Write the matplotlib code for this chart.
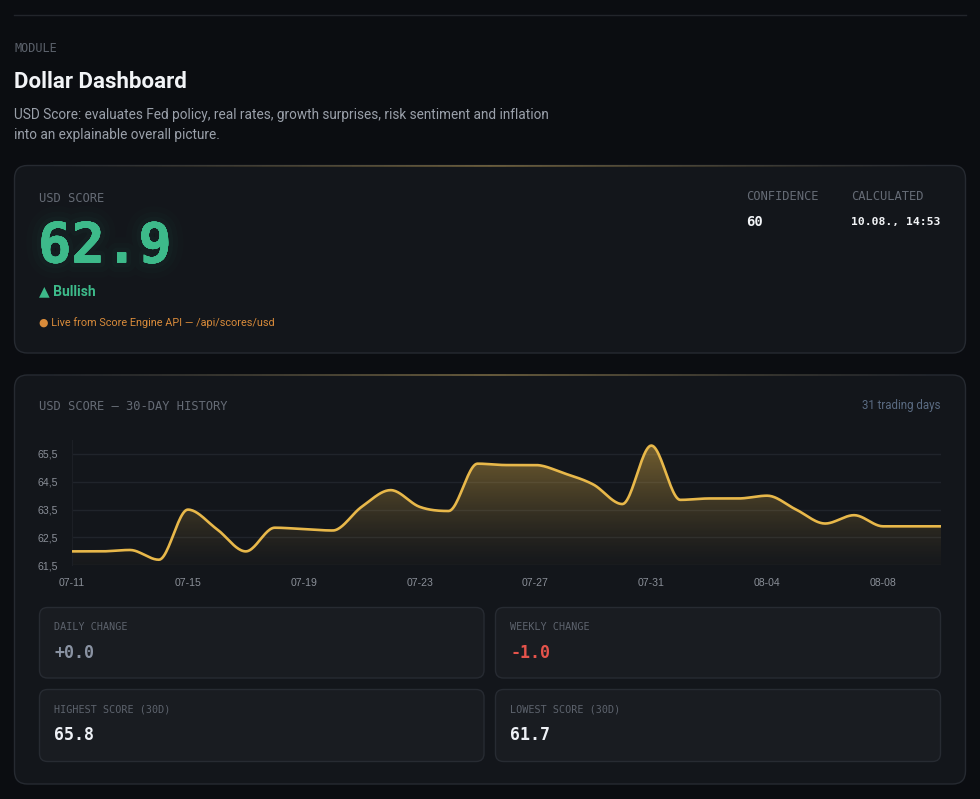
import numpy as np
import matplotlib
matplotlib.use("Agg")
import matplotlib.pyplot as plt
from matplotlib.patches import FancyBboxPatch
from matplotlib.collections import LineCollection
from matplotlib.ticker import FuncFormatter, FixedLocator
import matplotlib.patheffects as pe

# ---------------- data ----------------
dates = ["07-11", "07-12", "07-13", "07-14", "07-15", "07-16", "07-17", "07-18",
         "07-19", "07-20", "07-21", "07-22", "07-23", "07-24", "07-25", "07-26",
         "07-27", "07-28", "07-29", "07-30", "07-31", "08-01", "08-02", "08-03",
         "08-04", "08-05", "08-06", "08-07", "08-08", "08-09", "08-10"]
scores = [62.0, 62.0, 62.05, 61.7, 63.5, 62.8, 62.0, 62.85, 62.8, 62.75,
          63.6, 64.2, 63.6, 63.45, 65.15, 65.1, 65.1, 64.8, 64.4, 63.7,
          65.8, 63.85, 63.9, 63.9, 64.0, 63.5, 63.0, 63.3, 62.9, 62.9, 62.9]
yticks = [61.5, 62.5, 63.5, 64.5, 65.5]
xtick_labels = ["07-11", "07-15", "07-19", "07-23", "07-27", "07-31", "08-04", "08-08"]

current_score = "62.9"
signal = "▲ Bullish"
confidence = "60"
calculated = "10.08., 14:53"
stat_labels = ["DAILY CHANGE", "WEEKLY CHANGE", "HIGHEST SCORE (30D)", "LOWEST SCORE (30D)"]
stat_values = ["+0.0", "-1.0", "65.8", "61.7"]
stat_colors = ["#8a93a3", "#e5534b", "#eef1f6", "#eef1f6"]

# ---------------- style ----------------
BG = "#0b0d11"
CARD = "#13161b"
CARD_BORDER = "#262a31"
STAT = "#191c21"
GOLD = "#e8b84a"
GREEN = "#3dba8a"
MUTED = "#656b75"
MONO = "DejaVu Sans Mono"
SANS = ["Roboto", "DejaVu Sans"]

W, H = 980, 799
fig = plt.figure(figsize=(W / 100, H / 100), dpi=100, facecolor=BG)
bg = fig.add_axes([0, 0, 1, 1])
bg.set_xlim(0, W)
bg.set_ylim(H, 0)
bg.axis("off")
bg.set_facecolor(BG)


def rbox(x0, y0, x1, y1, r, fc, ec, lw=1.0, z=1):
    p = FancyBboxPatch((x0, y0), x1 - x0, y1 - y0,
                       boxstyle=f"round,pad=0,rounding_size={r}",
                       fc=fc, ec=ec, lw=lw, zorder=z)
    bg.add_patch(p)


def gold_top(x0, x1, y, z=3):
    xs = np.linspace(x0, x1, 200)
    segs = [[(xs[i], y), (xs[i + 1], y)] for i in range(len(xs) - 1)]
    c = (x0 + x1) / 2
    half = (x1 - x0) / 2
    cols = []
    for i in range(len(xs) - 1):
        xm = (xs[i] + xs[i + 1]) / 2
        a = max(0.0, 1 - abs(xm - c) / half) ** 1.2 * 0.45
        cols.append((0.85, 0.7, 0.35, a))
    bg.add_collection(LineCollection(segs, colors=cols, linewidths=1.2, zorder=z))


# top separator
bg.plot([14, 966], [14.5, 14.5], color="#22252b", lw=1, zorder=1)

# header
bg.text(14, 48, "MODULE", fontsize=8.6, family=MONO, color="#5b616b", va="center", ha="left")
bg.text(14, 82, "Dollar Dashboard", fontsize=16, family=SANS, fontweight="bold",
        color="#f2f4f7", va="center", ha="left")
bg.text(14, 115, "USD Score: evaluates Fed policy, real rates, growth surprises, risk sentiment and inflation",
        fontsize=9.85, family=SANS, color="#9aa0aa", va="center", ha="left")
bg.text(14, 135, "into an explainable overall picture.",
        fontsize=9.85, family=SANS, color="#9aa0aa", va="center", ha="left")

# ---------------- card 1 ----------------
rbox(14.5, 165.5, 965.5, 353, 13, CARD, CARD_BORDER, z=1)
gold_top(40, 940, 165.8)
bg.text(39, 199, "USD SCORE", fontsize=8.7, family=MONO, color=MUTED, va="center", ha="left")
glow = [pe.withStroke(linewidth=22, foreground=(0.24, 0.73, 0.54, 0.015)),
        pe.withStroke(linewidth=14, foreground=(0.24, 0.73, 0.54, 0.022)),
        pe.withStroke(linewidth=7, foreground=(0.24, 0.73, 0.54, 0.03)),
        pe.Normal()]
bg.text(38, 247, current_score, fontsize=40, family=MONO, fontweight="bold", color=GREEN,
        va="center", ha="left", path_effects=glow)
bg.text(39, 291, signal, fontsize=10, family=SANS, fontweight="bold", color=GREEN,
        va="center", ha="left")
bg.text(39, 323, "● Live from Score Engine API — /api/scores/usd", fontsize=7.8, family=SANS,
        color="#d98b3a", va="center", ha="left")

bg.text(746, 196, "CONFIDENCE", fontsize=8.7, family=MONO, color=MUTED, va="center", ha="left")
bg.text(746, 222, confidence, fontsize=10, family=MONO, fontweight="bold", color="#f2f4f7",
        va="center", ha="left")
bg.text(851, 196, "CALCULATED", fontsize=8.7, family=MONO, color=MUTED, va="center", ha="left")
bg.text(851, 222, calculated, fontsize=8.2, family=MONO, fontweight="bold", color="#f2f4f7",
        va="center", ha="left")

# ---------------- card 2 ----------------
rbox(14.5, 375, 965.5, 784, 13, CARD, CARD_BORDER, z=1)
gold_top(40, 940, 375.3)
bg.text(39, 406, "USD SCORE — 30-DAY HISTORY", fontsize=8.7, family=MONO, color=MUTED,
        va="center", ha="left")
bg.text(940, 406, "31 trading days", fontsize=8.3, family=SANS, color="#5a6b82",
        va="center", ha="right")

# stat cards
boxes = [(39.5, 607.5, 484, 678), (495.5, 607.5, 940.5, 678),
         (39.5, 689.5, 484, 761.5), (495.5, 689.5, 940.5, 761.5)]
for (x0, y0, x1, y1), lab, val, col in zip(boxes, stat_labels, stat_values, stat_colors):
    rbox(x0, y0, x1, y1, 8, STAT, "#272b32", z=2)
    bg.text(x0 + 14.5, y0 + 20, lab, fontsize=7.3, family=MONO, color="#5d636d",
            va="center", ha="left", zorder=3)
    bg.text(x0 + 14.5, y0 + 46, val, fontsize=12, family=MONO, fontweight="bold", color=col,
            va="center", ha="left", zorder=3)

# ---------------- chart ----------------
px0, px1 = 72, 941
py_top, py_bot = 440, 565.3
ax = fig.add_axes([px0 / W, 1 - py_bot / H, (px1 - px0) / W, (py_bot - py_top) / H])
ax.set_facecolor("none")
ax.set_zorder(5)

x = np.arange(len(scores), dtype=float)
y = np.array(scores, dtype=float)


def monotone(xv, yv, n=24):
    h = np.diff(xv)
    d = np.diff(yv) / h
    m = np.zeros_like(yv)
    m[0], m[-1] = d[0], d[-1]
    for k in range(1, len(yv) - 1):
        if d[k - 1] * d[k] <= 0:
            m[k] = 0.0
        else:
            m[k] = (d[k - 1] + d[k]) / 2
    for k in range(len(d)):
        if d[k] == 0:
            m[k] = m[k + 1] = 0.0
            continue
        a, b = m[k] / d[k], m[k + 1] / d[k]
        s = a * a + b * b
        if s > 9:
            t = 3 / np.sqrt(s)
            m[k], m[k + 1] = t * a * d[k], t * b * d[k]
    xs, ys = [], []
    for k in range(len(d)):
        t = np.linspace(0, 1, n, endpoint=False)
        h00 = 2 * t**3 - 3 * t**2 + 1
        h10 = t**3 - 2 * t**2 + t
        h01 = -2 * t**3 + 3 * t**2
        h11 = t**3 - t**2
        xs.append(xv[k] + t * h[k])
        ys.append(h00 * yv[k] + h10 * h[k] * m[k] + h01 * yv[k + 1] + h11 * h[k] * m[k + 1])
    xs.append([xv[-1]])
    ys.append([yv[-1]])
    return np.concatenate(xs), np.concatenate(ys)


xs, ys = monotone(x, y)
ymin, ymax = 61.5, 66.0
poly = ax.fill_between(xs, ys, ymin, color="none", lw=0)
grad = np.zeros((256, 1, 4))
g = np.linspace(0, 1, 256)
grad[:, 0, 0] = 0.91
grad[:, 0, 1] = 0.72
grad[:, 0, 2] = 0.29
grad[:, 0, 3] = 0.02 + 0.46 * g ** 1.3
img = ax.imshow(grad, extent=[0, len(scores) - 1, ymin, ymax], origin="lower",
                aspect="auto", zorder=1, interpolation="bilinear")
img.set_clip_path(poly.get_paths()[0], ax.transData)
ax.plot(xs, ys, color=GOLD, lw=1.9, zorder=3, solid_capstyle="round")

ax.set_xlim(0, len(scores) - 1)
ax.set_ylim(ymin, ymax)
ax.yaxis.set_major_locator(FixedLocator(yticks))
ax.yaxis.set_major_formatter(FuncFormatter(lambda v, p: f"{v:.1f}".replace(".", ",")))
xt = [dates.index(d) for d in xtick_labels]
ax.set_xticks(xt)
ax.set_xticklabels(xtick_labels)
ax.grid(axis="y", color="#20242b", lw=1)
ax.grid(axis="x", visible=False)
for s in ["top", "right", "bottom"]:
    ax.spines[s].set_visible(False)
ax.spines["left"].set_color("#1c1f25")
ax.tick_params(axis="both", length=0, labelsize=7.6, labelcolor="#8a8f98")
ax.tick_params(axis="y", pad=10)
ax.tick_params(axis="x", pad=9)
for lab in ax.get_xticklabels() + ax.get_yticklabels():
    lab.set_family("Liberation Sans")
ax.set_axisbelow(True)

fig.savefig("out.png", dpi=100, facecolor=BG)
